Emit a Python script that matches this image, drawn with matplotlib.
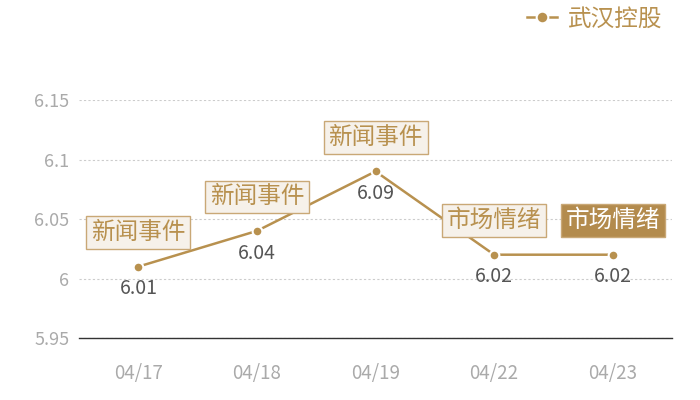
import matplotlib
matplotlib.use('Agg')
import matplotlib.pyplot as plt

plt.rcParams['font.family'] = ['Noto Sans CJK SC', 'DejaVu Sans']

# data
dates = ['04/17', '04/18', '04/19', '04/22', '04/23']
prices = [6.01, 6.04, 6.09, 6.02, 6.02]
events = ['新闻事件', '新闻事件', '新闻事件', '市场情绪', '市场情绪']
series_name = '武汉控股'

gold = '#b8914f'
x = list(range(len(dates)))

fig = plt.figure(figsize=(7, 4), dpi=100)
ax = fig.add_axes([0.113, 0.155, 0.847, 0.595])

ax.plot(x, prices, color=gold, lw=1.8, marker='o', ms=7,
        mfc=gold, mec='white', mew=1.5, zorder=3, label=series_name)

for i, (v, ev) in enumerate(zip(prices, events)):
    ax.annotate('{:.2f}'.format(v), (i, v), xytext=(0, -16),
                textcoords='offset points', ha='center', va='center',
                fontsize=14, color='#555555', zorder=4)
    last = i == len(dates) - 1
    ax.annotate(ev, (i, v), xytext=(0, 24.5), textcoords='offset points',
                ha='center', va='center', fontsize=17,
                color='white' if last else gold, zorder=5,
                bbox=dict(boxstyle='square,pad=0.2',
                          fc='#b38b4d' if last else '#f6f1ea',
                          ec='#c9a876', lw=1))

ax.set_xlim(-0.5, len(dates) - 0.5)
ax.set_ylim(5.95, 6.15)
ax.set_xticks(x)
ax.set_xticklabels(dates)
ax.set_yticks([5.95, 6.0, 6.05, 6.1, 6.15])
ax.set_yticklabels(['5.95', '6', '6.05', '6.1', '6.15'])
ax.tick_params(axis='both', length=0, colors='#aaaaaa', labelsize=13)
ax.tick_params(axis='x', labelsize=13.5, pad=18)
ax.tick_params(axis='y', pad=7)
ax.grid(axis='y', color='#cccccc', ls=(0, (2, 2)), lw=0.8)
for s in ['top', 'right', 'left']:
    ax.spines[s].set_visible(False)
ax.spines['bottom'].set_color('#333333')
ax.spines['bottom'].set_linewidth(1)

leg = fig.legend(loc='upper right', bbox_to_anchor=(0.975, 1.035), frameon=False,
                 fontsize=17, handlelength=1.3, handletextpad=0.4, markerscale=1.2)
for t in leg.get_texts():
    t.set_color(gold)

fig.savefig('out.png', dpi=100)
